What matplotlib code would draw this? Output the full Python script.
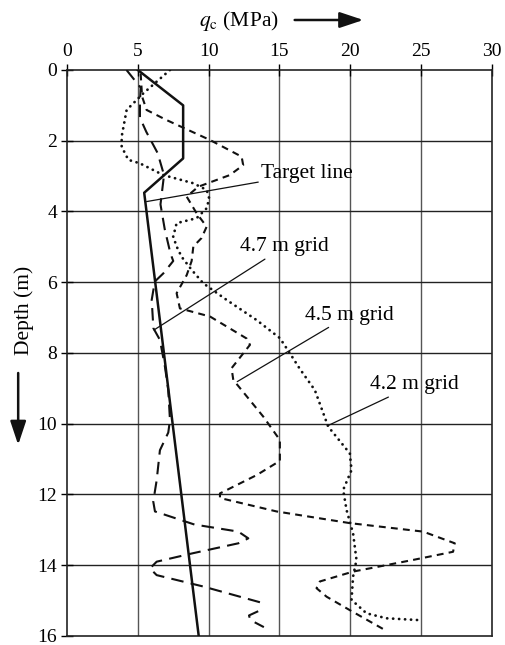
import matplotlib.pyplot as plt
from matplotlib.patches import FancyArrowPatch

plt.rcParams['font.family'] = 'Liberation Serif'
plt.rcParams['mathtext.fontset'] = 'stix'

# Target line (solid)
target_q = [5.0, 8.2, 8.2, 5.45, 9.3]
target_d = [0.0, 1.0, 2.5, 3.47, 16.0]

# 4.7 m grid (long dashes)
g47_q = [4.2, 4.6, 5.2, 5.15, 5.15, 5.6, 6.4, 6.85, 6.6, 6.9, 7.3, 7.5, 6.8, 6.2, 5.98,
         6.1, 6.56, 6.92, 7.15, 7.27, 7.15, 6.56, 6.33, 6.09, 6.21, 9.0, 12.1, 12.8, 12.1,
         8.9, 6.33, 5.86, 6.33, 9.6, 13.65]
g47_d = [0.0, 0.2, 0.5, 0.9, 1.35, 1.75, 2.35, 2.97, 3.8, 4.5, 5.18, 5.4, 5.75, 5.98, 6.5,
         7.3, 7.63, 8.4, 9.05, 9.9, 10.25, 10.75, 11.6, 12.2, 12.48, 12.85, 13.05, 13.24, 13.38,
         13.66, 13.9, 14.09, 14.28, 14.6, 15.05]
g47_tail_q = [13.5, 12.85, 12.95, 13.9]
g47_tail_d = [15.3, 15.42, 15.55, 15.75]

# 4.5 m grid (medium dashes)
g45_q = [5.2, 5.3, 5.62, 7.0, 10.1, 12.33, 12.44, 11.5, 9.27, 8.45, 9.15, 9.86, 9.5, 8.92,
         8.8, 8.45, 7.74, 7.97, 10.1, 12.68, 12.92, 11.62, 11.74, 13.86, 15.03, 15.03, 13.4,
         10.8, 10.8, 14.8, 19.97, 25.15, 27.38, 27.26, 24.44, 20.2, 17.85, 17.62, 18.33,
         19.97, 22.44]
g45_d = [0.1, 0.75, 1.13, 1.41, 1.98, 2.45, 2.69, 2.97, 3.3, 3.58, 4.05, 4.43, 4.75, 4.99,
         5.4, 5.8, 6.31, 6.74, 6.97, 7.59, 7.77, 8.43, 8.76, 9.8, 10.46, 11.05, 11.45,
         11.97, 12.1, 12.48, 12.81, 13.05, 13.38, 13.62, 13.85, 14.18, 14.46, 14.65, 14.89,
         15.27, 15.83]

# 4.2 m grid (dotted)
g42_q = [7.27, 5.39, 4.21, 3.86, 3.86, 4.33, 5.15, 6.8, 8.9, 9.86, 10.04, 9.86, 9.15, 7.74,
         7.5, 7.74, 8.09, 8.8, 9.62, 11.27, 13.39, 15.03, 15.74, 16.44, 17.5, 18.44, 19.97,
         20.09, 19.5, 19.74, 20.2, 20.44, 20.2, 20.09, 21.15, 22.56, 24.79]
g42_d = [0.0, 0.66, 1.13, 1.88, 2.17, 2.54, 2.64, 2.97, 3.2, 3.39, 3.63, 3.91, 4.19, 4.33,
         4.71, 4.99, 5.28, 5.65, 6.03, 6.5, 7.07, 7.58, 8.01, 8.45, 9.05, 10.08, 10.84,
         11.31, 11.87, 12.44, 13.1, 13.85, 14.32, 14.98, 15.36, 15.5, 15.55]

x_ticks = [0, 5, 10, 15, 20, 25, 30]
y_ticks = [0, 2, 4, 6, 8, 10, 12, 14, 16]

fig = plt.figure(figsize=(5.05, 6.45), dpi=100)
ax = fig.add_axes([0.1327, 0.014, 0.8413, 0.8775])

for x in x_ticks[1:-1]:
    ax.axvline(x, color='#555555', lw=1.0, zorder=1)
for y in y_ticks[1:-1]:
    ax.axhline(y, color='#222222', lw=1.0, zorder=1)

ax.plot(target_q, target_d, color='#111111', lw=1.8, zorder=3)
ax.plot(g47_q, g47_d, color='#111111', lw=1.5, linestyle=(0, (6, 3.5)), zorder=3)
ax.plot(g47_tail_q, g47_tail_d, color='#111111', lw=1.5, linestyle=(0, (6, 3.5)), zorder=3)
ax.plot(g45_q, g45_d, color='#111111', lw=1.5, linestyle=(0, (3.3, 2.5)), zorder=3)
ax.plot(g42_q, g42_d, color='#111111', lw=2.0, linestyle=(0, (0.05, 2.1)),
        dash_capstyle='round', zorder=3)

line_kw = dict(arrowstyle='-', color='#111111', lw=0.9, shrinkA=0, shrinkB=0)
txt_size = 15.5
ax.annotate('Target line', xy=(5.62, 3.72), xytext=(13.7, 2.93), fontsize=txt_size,
            va='center', ha='left', arrowprops=line_kw)
ax.annotate('4.7 m grid', xy=(6.14, 7.35), xytext=(12.2, 5.0), fontsize=txt_size,
            va='center', ha='left', arrowprops=line_kw)
ax.annotate('4.5 m grid', xy=(12.02, 8.81), xytext=(16.8, 6.93), fontsize=txt_size,
            va='center', ha='left', arrowprops=line_kw)
ax.annotate('4.2 m grid', xy=(18.44, 10.05), xytext=(21.4, 8.9), fontsize=txt_size,
            va='center', ha='left', arrowprops=line_kw)

ax.set_xlim(0, 30)
ax.set_ylim(16, 0)
ax.set_xticks(x_ticks)
ax.set_yticks(y_ticks)
ax.xaxis.tick_top()
ax.tick_params(axis='x', direction='inout', length=9, width=1, labelsize=14, pad=3)
ax.tick_params(axis='y', direction='inout', length=8, width=1, labelsize=14, pad=3)
for s in ax.spines.values():
    s.set_linewidth(1.2)
    s.set_color('#222222')

fig.text(0.473, 0.967, r'$q_{\mathrm{c}}$ (MPa)', fontsize=txt_size, ha='center', va='center')
fig.add_artist(FancyArrowPatch((0.578, 0.969), (0.725, 0.969), transform=fig.transFigure,
                               arrowstyle='-|>,head_length=0.9,head_width=0.3',
                               mutation_scale=16, color='#111111', lw=1.8))
fig.text(0.047, 0.519, 'Depth (m)', fontsize=txt_size, rotation=90, ha='center', va='center')
fig.add_artist(FancyArrowPatch((0.036, 0.426), (0.036, 0.306), transform=fig.transFigure,
                               arrowstyle='-|>,head_length=0.9,head_width=0.3',
                               mutation_scale=16, color='#111111', lw=1.8))

plt.savefig('out.png', dpi=100)
